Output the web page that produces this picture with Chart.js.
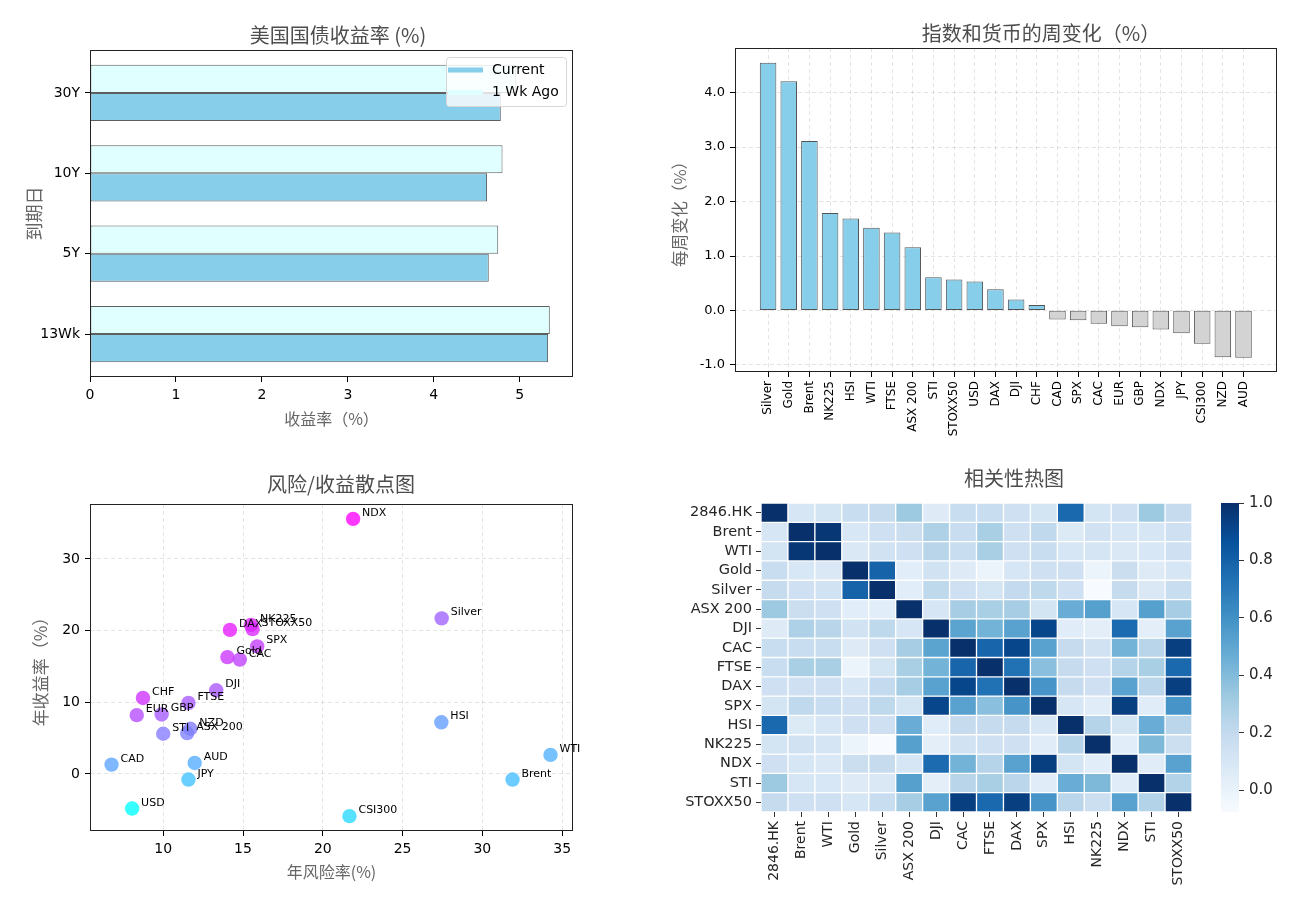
<!DOCTYPE html>
<html><head><meta charset="utf-8">
<script src="https://cdn.jsdelivr.net/npm/chart.js@4.4.1/dist/chart.umd.min.js"></script>
<style>
html,body{margin:0;padding:0;background:#fff;}
#fig{position:relative;width:1309px;height:897px;overflow:hidden;background:#fff;}
.panel{position:absolute;}
</style></head><body>
<div id="fig">
  <div class="panel" style="left:0;top:0;width:600px;height:440px"><canvas id="c1"></canvas></div>
  <div class="panel" style="left:660px;top:0;width:649px;height:440px"><canvas id="c2"></canvas></div>
  <div class="panel" style="left:0;top:460px;width:600px;height:437px"><canvas id="c3"></canvas></div>
  <div class="panel" style="left:670px;top:460px;width:530px;height:437px"><canvas id="c4"></canvas></div>
  <div class="panel" style="left:1200px;top:460px;width:109px;height:437px"><canvas id="c5"></canvas></div>
</div>
<script>
// ---------------- DATA ----------------
const maturities = ['13Wk', '5Y', '10Y', '30Y'];
const yieldCurrent = [5.33, 4.64, 4.62, 4.78];
const yieldWkAgo = [5.35, 4.75, 4.80, 4.96];
const yieldTicks = [0, 1, 2, 3, 4, 5];

const assets = ['Silver','Gold','Brent','NK225','HSI','WTI','FTSE','ASX 200','STI','STOXX50','USD','DAX','DJI','CHF','CAD','SPX','CAC','EUR','GBP','NDX','JPY','CSI300','NZD','AUD'];
const weeklyChange = [4.55, 4.21, 3.11, 1.79, 1.69, 1.52, 1.43, 1.16, 0.61, 0.57, 0.53, 0.39, 0.20, 0.10, -0.165, -0.18, -0.245, -0.29, -0.31, -0.35, -0.42, -0.61, -0.86, -0.87];
const changeTicks = [-1, 0, 1, 2, 3, 4];

const scatterNames = ['NDX','Silver','DAX','NK225','STOXX50','SPX','Gold','CAC','DJI','CHF','FTSE','EUR','GBP','STI','NZD','ASX 200','HSI','WTI','CAD','AUD','JPY','Brent','USD','CSI300'];
const annualRisk   = [21.9, 27.45, 14.18, 15.5, 15.6, 15.89, 14.02, 14.8, 13.32, 8.73, 11.58, 8.34, 9.9, 10.0, 11.7, 11.5, 27.43, 34.27, 6.76, 11.97, 11.58, 31.89, 8.05, 21.67];
const annualReturn = [35.6, 21.7, 20.1, 20.8, 20.2, 17.8, 16.3, 15.95, 11.67, 10.6, 9.9, 8.2, 8.3, 5.6, 6.3, 5.7, 7.2, 2.65, 1.3, 1.53, -0.79, -0.79, -4.84, -5.9];
const riskTicks = [10, 15, 20, 25, 30, 35];
const returnTicks = [0, 10, 20, 30];

const corrLabels = ['2846.HK','Brent','WTI','Gold','Silver','ASX 200','DJI','CAC','FTSE','DAX','SPX','HSI','NK225','NDX','STI','STOXX50'];
const corrHK      = [1.00, 0.10, 0.12, 0.18, 0.19, 0.33, 0.06, 0.18, 0.18, 0.15, 0.12, 0.77, 0.12, 0.15, 0.33, 0.19];
const corrBrent   = [0.10, 1.00, 0.97, 0.09, 0.15, 0.17, 0.27, 0.18, 0.29, 0.15, 0.21, 0.07, 0.13, 0.10, 0.10, 0.15];
const corrWTI     = [0.12, 0.97, 1.00, 0.08, 0.13, 0.15, 0.24, 0.18, 0.29, 0.15, 0.18, 0.10, 0.11, 0.08, 0.09, 0.15];
const corrGold    = [0.18, 0.09, 0.08, 1.00, 0.79, 0.04, 0.13, 0.06, -0.01, 0.10, 0.15, 0.15, -0.01, 0.17, 0.06, 0.10];
const corrSilver  = [0.19, 0.15, 0.13, 0.79, 1.00, 0.04, 0.22, 0.15, 0.12, 0.20, 0.22, 0.15, -0.076, 0.19, 0.08, 0.18];
const corrASX     = [0.33, 0.17, 0.15, 0.04, 0.04, 1.00, 0.10, 0.30, 0.29, 0.30, 0.12, 0.47, 0.53, 0.10, 0.53, 0.30];
const corrDJI     = [0.06, 0.27, 0.24, 0.13, 0.22, 0.10, 1.00, 0.51, 0.44, 0.52, 0.91, 0.05, 0.03, 0.76, 0.03, 0.52];
const corrCAC     = [0.18, 0.18, 0.18, 0.06, 0.15, 0.30, 0.51, 1.00, 0.78, 0.91, 0.52, 0.19, 0.13, 0.44, 0.24, 0.94];
const corrFTSE    = [0.18, 0.29, 0.29, -0.01, 0.12, 0.29, 0.44, 0.78, 1.00, 0.73, 0.38, 0.19, 0.15, 0.25, 0.29, 0.77];
const corrDAX     = [0.15, 0.15, 0.15, 0.10, 0.20, 0.30, 0.52, 0.91, 0.73, 1.00, 0.58, 0.19, 0.15, 0.52, 0.23, 0.94];
const corrSPX     = [0.12, 0.21, 0.18, 0.15, 0.22, 0.12, 0.91, 0.52, 0.38, 0.58, 1.00, 0.10, 0.05, 0.94, 0.05, 0.58];
const corrHSI     = [0.77, 0.07, 0.10, 0.15, 0.15, 0.47, 0.05, 0.19, 0.19, 0.19, 0.10, 1.00, 0.25, 0.12, 0.47, 0.23];
const corrNK225   = [0.12, 0.13, 0.11, -0.01, -0.076, 0.53, 0.03, 0.13, 0.15, 0.15, 0.05, 0.25, 1.00, 0.04, 0.41, 0.16];
const corrNDX     = [0.15, 0.10, 0.08, 0.17, 0.19, 0.10, 0.76, 0.44, 0.25, 0.52, 0.94, 0.12, 0.04, 1.00, 0.05, 0.52];
const corrSTI     = [0.33, 0.10, 0.09, 0.06, 0.08, 0.53, 0.03, 0.24, 0.29, 0.23, 0.05, 0.47, 0.41, 0.05, 1.00, 0.26];
const corrSTOXX50 = [0.19, 0.15, 0.15, 0.10, 0.18, 0.30, 0.52, 0.94, 0.77, 0.94, 0.58, 0.23, 0.16, 0.52, 0.26, 1.00];
const corrMatrix = [corrHK, corrBrent, corrWTI, corrGold, corrSilver, corrASX, corrDJI, corrCAC, corrFTSE, corrDAX, corrSPX, corrHSI, corrNK225, corrNDX, corrSTI, corrSTOXX50];
const colorbarTicks = [0, 0.2, 0.4, 0.6, 0.8, 1.0];

// ---------------- STYLE HELPERS ----------------
const CJK = "'Noto Sans CJK SC', sans-serif";
const LAT = "'DejaVu Sans', sans-serif";
Chart.defaults.font.family = LAT;
Chart.defaults.color = '#000';
const TITLE_COLOR = '#4d4d4d';
const LABEL_COLOR = '#666666';
const GRID_COLOR = 'rgba(180,180,180,0.45)';

const BLUES = ['#f7fbff','#deebf7','#c6dbef','#9ecae1','#6baed6','#4292c6','#2171b5','#08519c','#08306b'];
const BLUES_RGB = BLUES.map(h => [parseInt(h.slice(1,3),16), parseInt(h.slice(3,5),16), parseInt(h.slice(5,7),16)]);
function bluesColor(t) {
  t = Math.max(0, Math.min(1, t));
  const s = t * (BLUES_RGB.length - 1);
  const i = Math.min(BLUES_RGB.length - 2, Math.floor(s));
  const f = s - i, a = BLUES_RGB[i], b = BLUES_RGB[i + 1];
  return 'rgb(' + [0,1,2].map(k => Math.round(a[k] + (b[k] - a[k]) * f)).join(',') + ')';
}
function coolColor(t, alpha) {
  t = Math.max(0, Math.min(1, t));
  return 'rgba(' + Math.round(255 * t) + ',' + Math.round(255 * (1 - t)) + ',255,' + alpha + ')';
}
const setTicks = (vals) => (scale) => { scale.ticks = vals.map(v => ({ value: v })); };

const framePlugin = {
  id: 'frame',
  afterDatasetsDraw(chart, args, opts) {
    if (!opts.show) return;
    const { ctx, chartArea: a } = chart;
    ctx.save();
    ctx.strokeStyle = '#222';
    ctx.lineWidth = 1;
    ctx.setLineDash([]);
    ctx.strokeRect(Math.round(a.left) + 0.5, Math.round(a.top) + 0.5, Math.round(a.right - a.left) - 1, Math.round(a.bottom - a.top) - 1);
    ctx.restore();
  }
};
const titleCenterPlugin = {
  id: 'titleCenter',
  afterLayout(chart, args, opts) {
    const t = chart.titleBlock;
    if (!t || opts.x == null) return;
    const d = opts.x - (t.left + t.right) / 2;
    t.left += d; t.right += d;
  }
};
const insideLegendPlugin = {
  id: 'insideLegend',
  afterDraw(chart, args, o) {
    if (!o.order) return;
    const ctx = chart.ctx;
    ctx.save();
    ctx.beginPath();
    if (ctx.roundRect) ctx.roundRect(o.x + 0.5, o.y + 0.5, o.w, o.h, 3); else ctx.rect(o.x + 0.5, o.y + 0.5, o.w, o.h);
    ctx.fillStyle = 'rgba(255,255,255,0.8)';
    ctx.fill();
    ctx.strokeStyle = '#d6d6d6';
    ctx.lineWidth = 1;
    ctx.stroke();
    ctx.font = '14px ' + LAT;
    ctx.textBaseline = 'middle';
    o.order.forEach((di, k) => {
      const ds = chart.data.datasets[di];
      const cy = o.y + o.firstRow + k * o.rowGap;
      ctx.fillStyle = ds.backgroundColor;
      ctx.fillRect(o.x + 2, cy - 2.5, 35, 5);
      ctx.fillStyle = '#000';
      ctx.fillText(ds.label, o.x + 46, cy);
    });
    ctx.restore();
  }
};
const pointLabelsPlugin = {
  id: 'pointLabels',
  afterDatasetsDraw(chart, args, o) {
    if (!o.labels) return;
    const ctx = chart.ctx;
    const meta = chart.getDatasetMeta(0);
    ctx.save();
    ctx.font = '11px ' + LAT;
    ctx.fillStyle = '#000';
    ctx.textBaseline = 'alphabetic';
    meta.data.forEach((pt, i) => ctx.fillText(o.labels[i], pt.x + 9, pt.y - 3));
    ctx.restore();
  }
};
const plugins = [framePlugin, titleCenterPlugin, insideLegendPlugin, pointLabelsPlugin];

const baseOpts = () => ({
  responsive: true, maintainAspectRatio: false, animation: false, events: [],
});
const titleOpts = (text, top, bottom) => ({
  display: true, text, color: TITLE_COLOR,
  font: { family: CJK, size: 20, weight: 'normal' },
  padding: { top, bottom }
});
const tickGrid = (onArea) => ({
  drawOnChartArea: onArea, color: GRID_COLOR, lineWidth: 0.8, offset: false,
  tickLength: 5, tickColor: '#000', tickWidth: 1, tickBorderDash: []
});

// ---------------- PANEL 1: Treasury yields ----------------
new Chart(document.getElementById('c1'), {
  type: 'bar',
  plugins,
  data: {
    datasets: [
      { label: '1 Wk Ago', data: maturities.map((m, i) => ({ x: yieldWkAgo[i], y: i })),
        backgroundColor: '#e0ffff', borderColor: 'rgba(40,40,40,0.75)', borderWidth: 1, borderSkipped: false },
      { label: 'Current', data: maturities.map((m, i) => ({ x: yieldCurrent[i], y: i })),
        backgroundColor: '#87ceeb', borderColor: 'rgba(40,40,40,0.75)', borderWidth: 1, borderSkipped: false }
    ]
  },
  options: {
    ...baseOpts(),
    indexAxis: 'y',
    datasets: { bar: { categoryPercentage: 0.7, barPercentage: 1.0 } },
    layout: { padding: { left: 0, right: 27, top: 0, bottom: 0 } },
    plugins: {
      legend: { display: false }, tooltip: { enabled: false },
      title: titleOpts('美国国债收益率 (%)', 23.8, 2.2),
      titleCenter: { x: 338 },
      frame: { show: true },
      insideLegend: { order: [1, 0], x: 446, y: 57, w: 120, h: 49, firstRow: 13, rowGap: 22.5 }
    },
    scales: {
      x: {
        type: 'linear', min: 0, max: 5.62, bounds: 'data', offset: false,
        afterBuildTicks: setTicks(yieldTicks),
        afterFit: (s) => { s.height = 63; },
        ticks: { font: { size: 14 }, color: '#000', padding: 5, autoSkip: false, maxRotation: 0 },
        grid: tickGrid(false), border: { display: false },
        title: { display: true, text: '收益率（%）', color: LABEL_COLOR, font: { family: CJK, size: 16 }, padding: { top: 0, bottom: 11.4 } }
      },
      y: {
        type: 'linear', min: -0.535, max: 3.535, bounds: 'data', offset: false,
        afterBuildTicks: setTicks(maturities.map((m, i) => i)),
        afterFit: (s) => { s.width = 90; },
        ticks: { font: { size: 14 }, color: '#000', padding: 5, autoSkip: false, callback: (v) => maturities[v] },
        grid: tickGrid(false), border: { display: false },
        title: { display: true, text: '到期日', color: LABEL_COLOR, font: { family: CJK, size: 18 }, padding: { top: 23, bottom: 0 } }
      }
    }
  }
});

// ---------------- PANEL 2: weekly change ----------------
new Chart(document.getElementById('c2'), {
  type: 'bar',
  plugins,
  data: {
    datasets: [{
      label: '每周变化',
      data: assets.map((a, i) => ({ x: i, y: weeklyChange[i] })),
      backgroundColor: weeklyChange.map(v => v >= 0 ? '#87ceeb' : '#d3d3d3'),
      borderColor: 'rgba(40,40,40,0.8)', borderWidth: 1, borderSkipped: false,
      categoryPercentage: 1.0, barPercentage: 0.8
    }]
  },
  options: {
    ...baseOpts(),
    layout: { padding: { left: 0, right: 32, top: 0, bottom: 0 } },
    plugins: {
      legend: { display: false }, tooltip: { enabled: false },
      title: titleOpts('指数和货币的周变化（%）', 21, 3),
      titleCenter: { x: 381 },
      frame: { show: true }
    },
    scales: {
      x: {
        type: 'linear', min: -1.6, max: 24.62, bounds: 'data', offset: false,
        afterBuildTicks: setTicks(assets.map((a, i) => i)),
        afterFit: (s) => { s.height = 68; },
        ticks: { font: { size: 12 }, color: '#000', padding: 4, autoSkip: false, minRotation: 90, maxRotation: 90, callback: (v) => assets[v] },
        grid: tickGrid(true), border: { display: false, dash: [4, 3] }
      },
      y: {
        type: 'linear', min: -1.13, max: 4.82, bounds: 'data', offset: false,
        afterBuildTicks: setTicks(changeTicks),
        afterFit: (s) => { s.width = 75; },
        ticks: { font: { size: 13 }, color: '#000', padding: 5, autoSkip: false, callback: (v) => v.toFixed(1) },
        grid: tickGrid(true), border: { display: false, dash: [4, 3] },
        title: { display: true, text: '每周变化（%）', color: LABEL_COLOR, font: { family: CJK, size: 16.5 }, padding: { top: 10.1, bottom: 0 } }
      }
    }
  }
});

// ---------------- PANEL 3: risk / return scatter ----------------
const sharpe = annualReturn.map((r, i) => r / annualRisk[i]);
const sMin = Math.min(...sharpe), sMax = Math.max(...sharpe);
new Chart(document.getElementById('c3'), {
  type: 'scatter',
  plugins,
  data: {
    datasets: [{
      label: '资产',
      data: scatterNames.map((n, i) => ({ x: annualRisk[i], y: annualReturn[i] })),
      pointBackgroundColor: sharpe.map(s => coolColor((s - sMin) / (sMax - sMin), 0.78)),
      pointBorderWidth: 0, pointRadius: 7.2
    }]
  },
  options: {
    ...baseOpts(),
    layout: { padding: { left: 0, right: 27, top: 0, bottom: 0 } },
    plugins: {
      legend: { display: false }, tooltip: { enabled: false },
      title: titleOpts('风险/收益散点图', 12, 8),
      titleCenter: { x: 341 },
      frame: { show: true },
      pointLabels: { labels: scatterNames }
    },
    scales: {
      x: {
        type: 'linear', min: 5.41, max: 35.68, bounds: 'data',
        afterBuildTicks: setTicks(riskTicks),
        afterFit: (s) => { s.height = 66; },
        ticks: { font: { size: 14 }, color: '#000', padding: 5, autoSkip: false, maxRotation: 0 },
        grid: tickGrid(true), border: { display: false, dash: [4, 3] },
        title: { display: true, text: '年风险率(%)', color: LABEL_COLOR, font: { family: CJK, size: 16 }, padding: { top: 0, bottom: 15.4 } }
      },
      y: {
        type: 'linear', min: -7.97, max: 37.67, bounds: 'data',
        afterBuildTicks: setTicks(returnTicks),
        afterFit: (s) => { s.width = 90; },
        ticks: { font: { size: 14 }, color: '#000', padding: 5, autoSkip: false },
        grid: tickGrid(true), border: { display: false, dash: [4, 3] },
        title: { display: true, text: '年收益率（%）', color: LABEL_COLOR, font: { family: CJK, size: 17 }, padding: { top: 30.3, bottom: 0 } }
      }
    }
  }
});

// ---------------- PANEL 4: correlation heatmap ----------------
const allCorr = corrMatrix.flat();
const vMin = Math.min(...allCorr), vMax = Math.max(...allCorr);
new Chart(document.getElementById('c4'), {
  type: 'bar',
  plugins,
  data: {
    labels: corrLabels,
    datasets: corrMatrix.map((row, r) => ({
      label: corrLabels[r],
      data: row.map(() => [r, r + 1]),
      backgroundColor: row.map(v => bluesColor((v - vMin) / (vMax - vMin))),
      borderColor: '#ffffff', borderWidth: 1, borderSkipped: false,
      grouped: false, categoryPercentage: 1.0, barPercentage: 1.0
    }))
  },
  options: {
    ...baseOpts(),
    layout: { padding: { left: 0, right: 8, top: 0, bottom: 0 } },
    plugins: {
      legend: { display: false }, tooltip: { enabled: false },
      title: titleOpts('相关性热图', 6, 13),
      titleCenter: { x: 344 }
    },
    scales: {
      x: {
        type: 'category',
        afterFit: (s) => { s.height = 85; },
        ticks: { font: { size: 14 }, color: '#262626', padding: 4, autoSkip: false, minRotation: 90, maxRotation: 90 },
        grid: { drawOnChartArea: false, tickLength: 5, tickColor: '#333', offset: false }, border: { display: false }
      },
      y: {
        type: 'linear', min: 0, max: corrLabels.length, reverse: true, bounds: 'data',
        afterBuildTicks: setTicks(corrLabels.map((l, i) => i + 0.5)),
        afterFit: (s) => { s.width = 91; },
        ticks: { font: { size: 14.5 }, color: '#262626', padding: 4, autoSkip: false, callback: (v) => corrLabels[Math.floor(v)] },
        grid: { drawOnChartArea: false, tickLength: 5, tickColor: '#333' }, border: { display: false }
      }
    }
  }
});

// ---------------- COLORBAR ----------------
new Chart(document.getElementById('c5'), {
  type: 'bar',
  data: {
    labels: [''],
    datasets: [{
      data: [[vMin, vMax]],
      backgroundColor: (ctx) => {
        const a = ctx.chart.chartArea;
        if (!a) return BLUES[4];
        const g = ctx.chart.ctx.createLinearGradient(0, a.bottom, 0, a.top);
        BLUES.forEach((c, i) => g.addColorStop(i / (BLUES.length - 1), c));
        return g;
      },
      borderWidth: 0, categoryPercentage: 1.0, barPercentage: 1.0
    }]
  },
  options: {
    ...baseOpts(),
    layout: { padding: { left: 21, right: 0, top: 43, bottom: 85 } },
    plugins: { legend: { display: false }, tooltip: { enabled: false }, title: { display: false } },
    scales: {
      x: { display: false },
      y: {
        position: 'right', type: 'linear', min: vMin, max: vMax, bounds: 'data',
        afterBuildTicks: setTicks(colorbarTicks),
        afterFit: (s) => { s.width = 70; },
        ticks: { font: { size: 15 }, color: '#262626', padding: 5, autoSkip: false, callback: (v) => v.toFixed(1) },
        grid: { drawOnChartArea: false, tickLength: 5, tickColor: '#333' }, border: { display: false }
      }
    }
  }
});
</script>
</body></html>
